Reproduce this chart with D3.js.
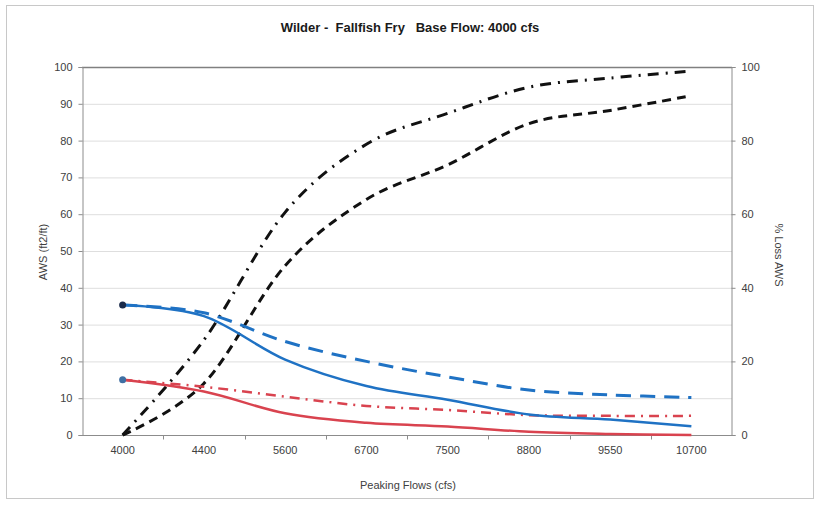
<!DOCTYPE html>
<html>
<head>
<meta charset="utf-8">
<script src="https://cdn.jsdelivr.net/npm/d3@7"></script>
<style>
  body { margin: 0; background: #fff; }
  svg { display: block; font-family: Arial, "Liberation Sans", sans-serif; }
  .axis text { fill: #404040; font-size: 11px; }
  .axis path, .axis line { stroke: #8c8c8c; }
</style>
</head>
<body>
<div id="chart"></div>
<script>
// categories (peaking flows, cfs)
var flows = ["4000", "4400", "5600", "6700", "7500", "8800", "9550", "10700"];

// AWS (ft2/ft), left axis
var awsBlue = [35.3, 32.3, 20.5, 13.3, 9.6, 5.6, 4.2, 2.4];
var awsBlueDash = [35.3, 33.2, 25.4, 20.0, 15.8, 12.2, 10.9, 10.2];
var awsRed = [15.0, 11.8, 5.9, 3.3, 2.3, 0.9, 0.3, 0.0];
var awsRedDashDot = [15.0, 13.1, 10.4, 7.9, 6.8, 5.4, 5.2, 5.2];

// % loss AWS, right axis
var lossDash = [0, 14.0, 46.0, 64.0, 73.4, 84.6, 88.2, 92.2];
var lossDashDot = [0, 25.8, 60.5, 79.0, 87.4, 94.5, 97.0, 98.9];

var leftTicks = [0, 10, 20, 30, 40, 50, 60, 70, 80, 90, 100];
var rightTicks = [0, 20, 40, 60, 80, 100];

var W = 818, H = 505;
var margin = { top: 67, right: 86, bottom: 70, left: 82 },
    width = W - margin.left - margin.right,
    height = H - margin.top - margin.bottom;

var root = d3.select("#chart").append("svg")
    .attr("width", W)
    .attr("height", H);

// outer chart border
root.append("rect")
    .attr("x", 6.5).attr("y", 5.5)
    .attr("width", 807).attr("height", 493)
    .attr("fill", "#fff")
    .attr("stroke", "#c8c8c8");

var svg = root.append("g")
    .attr("transform", "translate(" + margin.left + "," + margin.top + ")");

var x = d3.scaleBand().domain(flows).range([0, width]).padding(0);
var cx = function (i) { return x(flows[i]) + x.bandwidth() / 2; };

var yl = d3.scaleLinear().domain([0, 100]).range([height, 0]);
var yr = d3.scaleLinear().domain([0, 100]).range([height, 0]);

// gridlines
svg.append("g")
    .selectAll("line")
    .data(leftTicks.slice(1, -1))
    .join("line")
    .attr("x1", 0).attr("x2", width)
    .attr("y1", function (d) { return yl(d) + 0.5; })
    .attr("y2", function (d) { return yl(d) + 0.5; })
    .attr("stroke", "#dedede");

// top border of plot
svg.append("line")
    .attr("x1", 0).attr("x2", width)
    .attr("y1", 0.5).attr("y2", 0.5)
    .attr("stroke", "#808080")
    .attr("stroke-width", 1.5);

// axes
var leftAxis = d3.axisLeft(yl).tickValues(leftTicks).tickSize(4).tickPadding(6);
svg.append("g").attr("class", "axis")
    .attr("transform", "translate(0.5,0)")
    .call(leftAxis);

var rightAxis = d3.axisRight(yr).tickValues(rightTicks).tickSize(4).tickPadding(6);
svg.append("g").attr("class", "axis")
    .attr("transform", "translate(" + (width - 0.5) + ",0)")
    .call(rightAxis);

var bottomAxis = d3.axisBottom(x).tickSize(0).tickPadding(11);
var gx = svg.append("g").attr("class", "axis")
    .attr("transform", "translate(0," + (height + 0.5) + ")")
    .call(bottomAxis);
gx.select(".domain").attr("d", "M0,0H" + width);
// tick marks between categories
gx.selectAll(".sep")
    .data(flows.slice(1))
    .join("line")
    .attr("class", "sep")
    .attr("x1", function (d) { return Math.round(x(d)) + 0.5; })
    .attr("x2", function (d) { return Math.round(x(d)) + 0.5; })
    .attr("y1", 0).attr("y2", 4)
    .attr("stroke", "#8c8c8c");

// lines
var curve = d3.curveCatmullRom.alpha(0);
function lineFor(scale) {
    return d3.line()
        .x(function (d, i) { return cx(i); })
        .y(function (d) { return scale(d); })
        .curve(curve);
}

var series = [
    { values: lossDash, scale: yr, color: "#111", width: 3, dash: "9,6" },
    { values: lossDashDot, scale: yr, color: "#111", width: 3, dash: "11,7,2,7" },
    { values: awsBlueDash, scale: yl, color: "#1f72c4", width: 3, dash: "15,9" },
    { values: awsRedDashDot, scale: yl, color: "#d9434f", width: 2.5, dash: "10,6,2,6" },
    { values: awsBlue, scale: yl, color: "#1f72c4", width: 2.5, dash: null },
    { values: awsRed, scale: yl, color: "#d9434f", width: 2.5, dash: null }
];

series.forEach(function (s) {
    svg.append("path")
        .datum(s.values)
        .attr("fill", "none")
        .attr("stroke", s.color)
        .attr("stroke-width", s.width)
        .attr("stroke-dasharray", s.dash)
        .attr("d", lineFor(s.scale));
});

// start markers
svg.append("circle")
    .attr("cx", cx(0)).attr("cy", yl(awsBlue[0]))
    .attr("r", 3.5).attr("fill", "#1a2a4a");
svg.append("circle")
    .attr("cx", cx(0)).attr("cy", yl(awsRed[0]))
    .attr("r", 3.5).attr("fill", "#3f6fa3");

// titles
root.append("text")
    .attr("x", 410).attr("y", 32)
    .attr("text-anchor", "middle")
    .attr("font-size", "13px")
    .attr("font-weight", "bold")
    .attr("fill", "#1a1a1a")
    .attr("xml:space", "preserve")
    .text("Wilder -  Fallfish Fry   Base Flow: 4000 cfs");

root.append("text")
    .attr("x", 408).attr("y", 489)
    .attr("text-anchor", "middle")
    .attr("font-size", "11px")
    .attr("fill", "#404040")
    .text("Peaking Flows (cfs)");

root.append("text")
    .attr("transform", "translate(47,252) rotate(-90)")
    .attr("text-anchor", "middle")
    .attr("font-size", "11px")
    .attr("fill", "#404040")
    .text("AWS (ft2/ft)");

root.append("text")
    .attr("transform", "translate(775,255) rotate(90)")
    .attr("text-anchor", "middle")
    .attr("font-size", "11px")
    .attr("fill", "#404040")
    .text("% Loss AWS");
</script>
</body>
</html>
